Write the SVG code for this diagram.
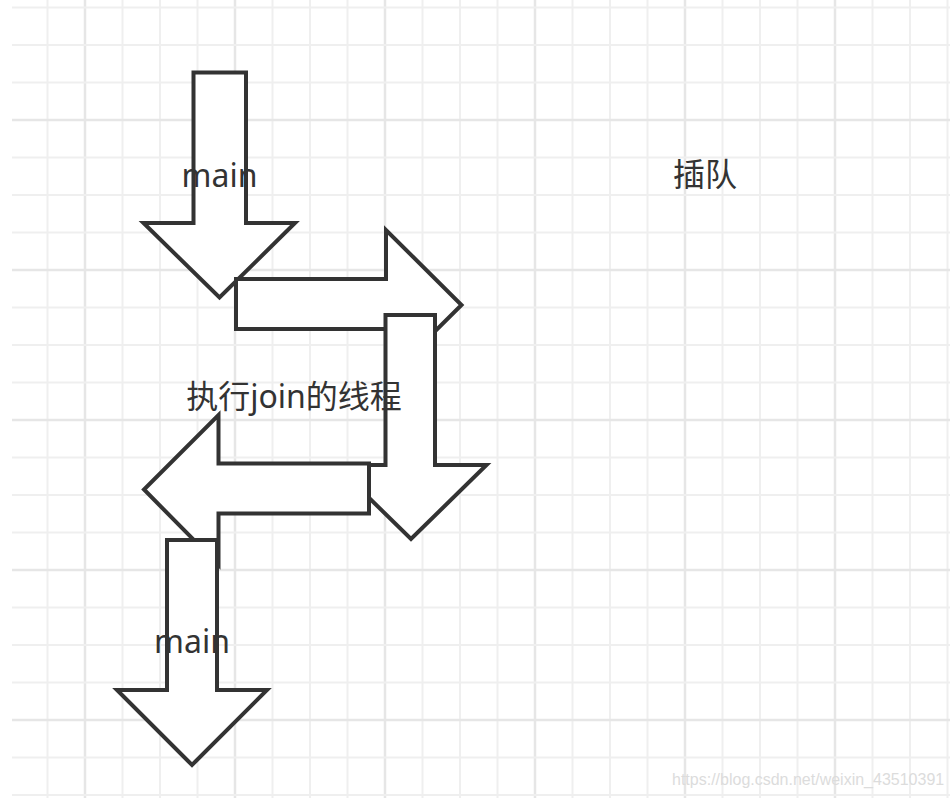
<svg xmlns="http://www.w3.org/2000/svg" width="950" height="798" viewBox="0 0 950 798">
<style>
.minor{stroke:#efefef;stroke-width:2;fill:none}
.major{stroke:#e6e6e6;stroke-width:2.5;fill:none}
.arrow{fill:#ffffff;stroke:#333333;stroke-width:4;stroke-linejoin:miter}
.lbl{font-family:"Noto Sans","Open Sans","Noto Sans CJK SC",sans-serif;font-size:32px;fill:#333333;text-anchor:middle}
.wm{font-family:"Liberation Sans",Arial,sans-serif;font-size:16px;fill:#dcdcdc}
</style>
<rect width="950" height="798" fill="#ffffff"/>
<g id="grid">
<path class="minor" d="M47.5 0V798M122.5 0V798M160 0V798M197.5 0V798M272.5 0V798M310 0V798M347.5 0V798M422.5 0V798M460 0V798M497.5 0V798M572.5 0V798M610 0V798M647.5 0V798M722.5 0V798M760 0V798M797.5 0V798M872.5 0V798M910 0V798M947.5 0V798"/>
<path class="major" d="M85 0V798M235 0V798M385 0V798M535 0V798M685 0V798M835 0V798"/>
<path class="minor" d="M12 7.5H950M12 45H950M12 82.5H950M12 157.5H950M12 195H950M12 232.5H950M12 307.5H950M12 345H950M12 382.5H950M12 457.5H950M12 495H950M12 532.5H950M12 607.5H950M12 645H950M12 682.5H950M12 757.5H950M12 795H950"/>
<path class="major" d="M12 120H950M12 270H950M12 420H950M12 570H950M12 720H950"/>
</g>
<g id="connectors">
<g id="arrow1"><polygon class="arrow" points="193.5,72.5 246,72.5 246,223 295,223 219.5,297.5 143.5,223 193.5,223"/></g>
<g id="arrow2"><polygon class="arrow" points="236,279 386,279 386,230 461.5,305 386,380 386,329 236,329"/></g>
<g id="arrow3"><polygon class="arrow" points="385.5,315 435,315 435,465 486.5,465 411,539 335.5,465 385.5,465"/></g>
<g id="arrow4"><polygon class="arrow" points="369,463.5 369,513.5 218.5,513.5 218.5,565 144,489.5 218.5,415 218.5,463.5"/></g>
<g id="arrow5"><polygon class="arrow" points="167,540 217,540 217,690 267,690 192,765 117,690 167,690"/></g>
</g>
<g id="label-main-top"><text class="lbl" x="219.5" y="187">main</text></g>
<g id="label-join"><text class="lbl" x="294" y="408">执行join的线程</text></g>
<g id="label-insert"><text class="lbl" x="705" y="186">插队</text></g>
<g id="label-main-bottom"><text class="lbl" x="192" y="653">main</text></g>
<g id="watermark"><text class="wm" x="672" y="785">https://blog.csdn.net/weixin_43510391</text></g>
</svg>
